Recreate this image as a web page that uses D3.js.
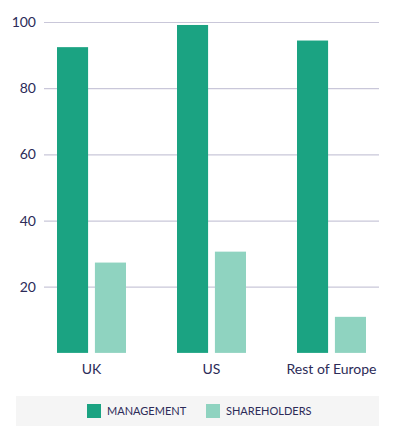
<!DOCTYPE html>
<html>
<head>
<meta charset="utf-8">
<script src="https://cdn.jsdelivr.net/npm/d3@7"></script>
<style>
  body { margin: 0; background: #fff; }
  svg { display: block; font-family: Lato, "Open Sans", sans-serif; }
</style>
</head>
<body>
<div id="chart"></div>
<script>
let categories = ['UK', 'US', 'Rest of Europe']
let seriesNames = ['MANAGEMENT', 'SHAREHOLDERS']
let management = [92.4, 99.1, 94.4]
let shareholders = [27.3, 30.6, 10.9]
let yTicks = [20, 40, 60, 80, 100]

let colors = ['#1ba382', '#8fd3c0']
let textColor = '#2c2b58'

let width = 395, height = 442

let svg = d3.select('#chart')
	.append('svg')
	.attr('width', width)
	.attr('height', height)

let rows = categories.map(function(c, i){
	return { cat: c, values: [management[i], shareholders[i]] }
})

let y = d3.scaleLinear().domain([0, 100]).range([352.9, 22])

let x0 = d3.scaleBand()
	.domain(categories)
	.range([6, 417])
	.paddingInner(0.425)
	.paddingOuter(0.425)

let x1 = d3.scaleBand()
	.domain(seriesNames)
	.range([0, x0.bandwidth()])
	.paddingInner(0.18)

// gridlines + y labels
let yAxis = d3.axisLeft(y)
	.tickValues(yTicks)
	.tickSize(-335)
	.tickPadding(8)

let gy = svg.append('g')
	.attr('transform', 'translate(44,0)')
	.call(yAxis)
gy.select('.domain').remove()
gy.selectAll('.tick line')
	.attr('stroke', '#c9c7d9')
	.attr('stroke-width', 1.2)
gy.selectAll('.tick text')
	.attr('fill', textColor)
	.attr('font-size', 14)
	.attr('font-family', 'Lato, sans-serif')

// bars
let groups = svg.append('g')
	.selectAll('g')
	.data(rows)
	.enter()
	.append('g')
	.attr('transform', function(d){ return 'translate(' + x0(d.cat) + ',0)' })

groups.selectAll('rect')
	.data(function(d){
		return d.values.map(function(v, i){ return { key: seriesNames[i], value: v, i: i } })
	})
	.enter()
	.append('rect')
	.attr('x', function(d){ return x1(d.key) })
	.attr('y', function(d){ return y(d.value) })
	.attr('width', x1.bandwidth())
	.attr('height', function(d){ return y(0) - y(d.value) })
	.attr('fill', function(d){ return colors[d.i] })

// category labels
let xAxis = d3.axisBottom(x0).tickSize(0).tickPadding(0)
let gx = svg.append('g')
	.attr('transform', 'translate(0,364)')
	.call(xAxis)
gx.select('.domain').remove()
gx.selectAll('.tick text')
	.attr('fill', textColor)
	.attr('font-size', 14)
	.attr('font-family', 'Lato, sans-serif')
	.attr('dy', '0.71em')

// legend
let legend = svg.append('g')
legend.append('rect')
	.attr('x', 16)
	.attr('y', 396)
	.attr('width', 363)
	.attr('height', 30)
	.attr('fill', '#f5f5f5')

let legX = [87, 206]
let items = legend.selectAll('g.item')
	.data(seriesNames)
	.enter()
	.append('g')
	.attr('class', 'item')
	.attr('transform', function(d, i){ return 'translate(' + legX[i] + ',404)' })

items.append('rect')
	.attr('width', 14)
	.attr('height', 14)
	.attr('fill', function(d, i){ return colors[i] })

items.append('text')
	.attr('x', 20)
	.attr('y', 7)
	.attr('dy', '0.35em')
	.attr('fill', textColor)
	.attr('font-size', 11)
	.text(function(d){ return d })
</script>
</body>
</html>
